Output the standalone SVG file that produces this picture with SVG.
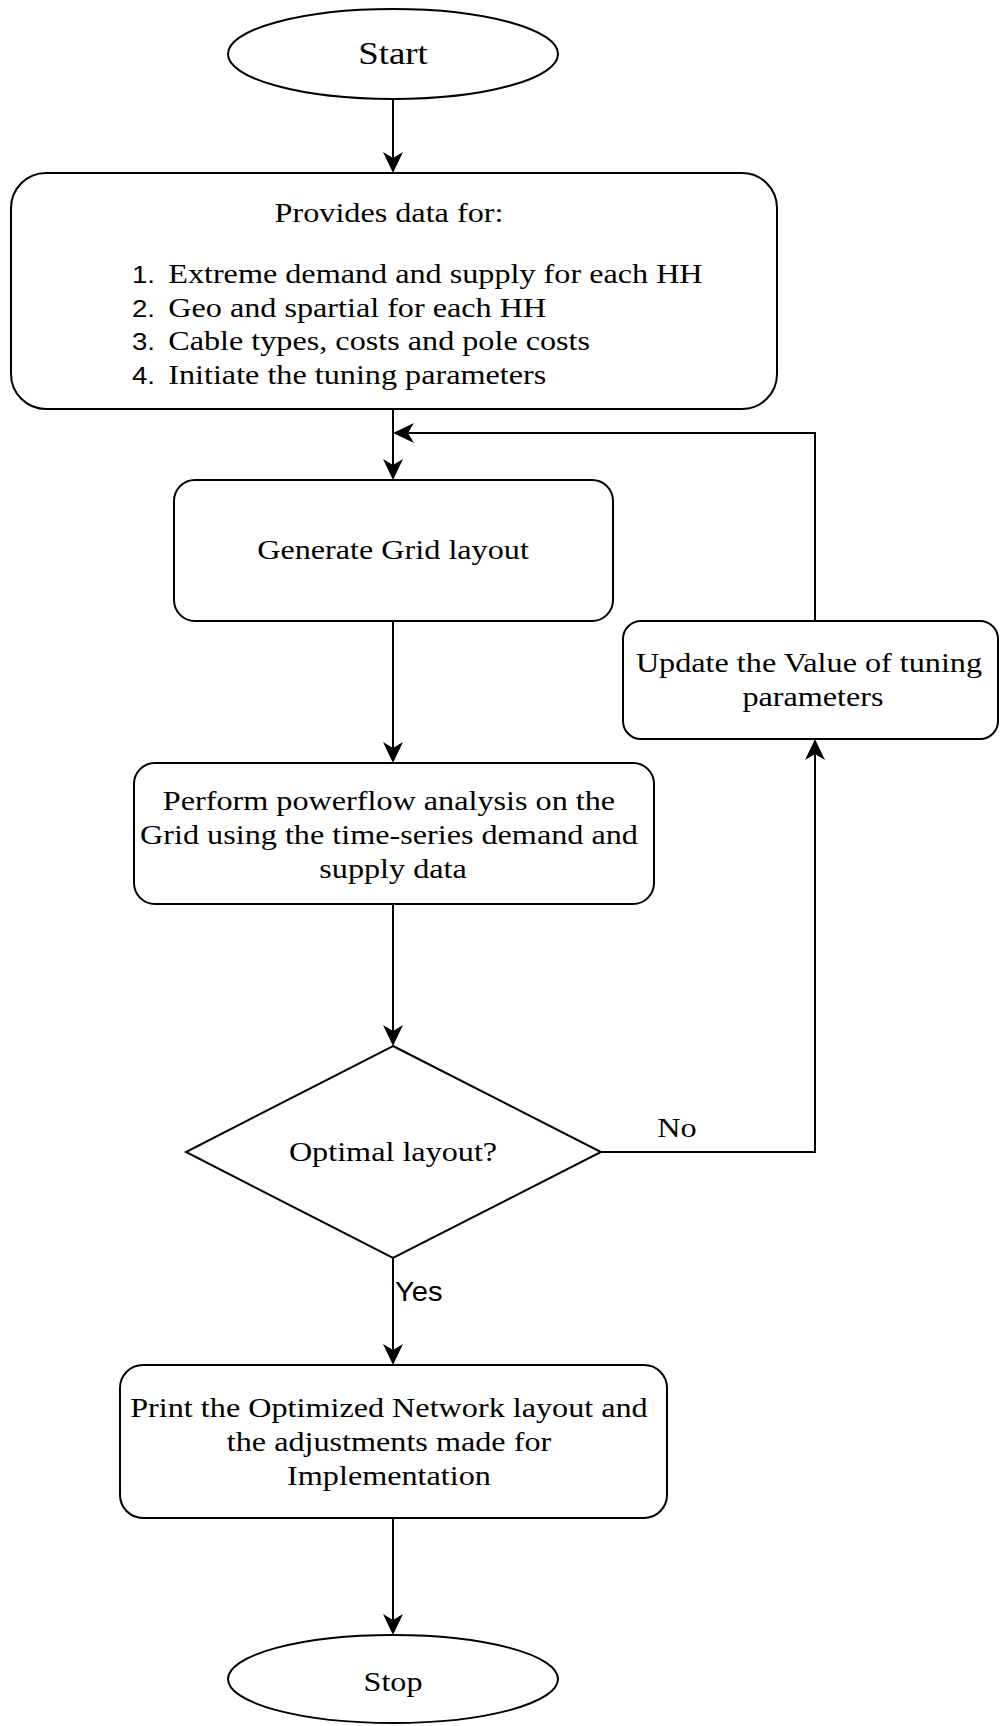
<svg xmlns="http://www.w3.org/2000/svg" width="1000" height="1726" viewBox="0 0 1000 1726">
  <style>
    .shape { fill: #ffffff; stroke: #000000; stroke-width: 2; }
    .conn { fill: none; stroke: #000000; stroke-width: 2; }
    .t { font-family: "Liberation Serif", "Times New Roman", serif; font-size: 28px; fill: #000000; text-anchor: middle; }
    .big { font-size: 32px; }
    .left { text-anchor: start; }
    .num { font-family: "Liberation Sans", Arial, sans-serif; font-size: 24px; }
    .s { font-family: "Liberation Sans", Arial, sans-serif; font-size: 28px; fill: #000000; }
  </style>
  <defs>
    <marker id="arrow" viewBox="0 0 24 24" markerWidth="24" markerHeight="24" refX="14" refY="12" orient="auto" markerUnits="userSpaceOnUse">
      <path d="M1,2 L22,12 L1,22 L7,12 Z" fill="#000000"/>
    </marker>
  </defs>
  <rect width="1000" height="1726" fill="#ffffff"/>

  <g id="connectors">
    <path class="conn" d="M393,100 V165" marker-end="url(#arrow)"/>
    <path class="conn" d="M393,409 V472" marker-end="url(#arrow)"/>
    <path class="conn" d="M815,621 V433 H401" marker-end="url(#arrow)"/>
    <path class="conn" d="M393,621 V755" marker-end="url(#arrow)"/>
    <path class="conn" d="M393,904 V1038" marker-end="url(#arrow)"/>
    <path class="conn" d="M393,1258 V1357" marker-end="url(#arrow)"/>
    <path class="conn" d="M601,1152 H815 V747" marker-end="url(#arrow)"/>
    <path class="conn" d="M393,1518 V1627" marker-end="url(#arrow)"/>
  </g>

  <g id="start">
    <ellipse class="shape" cx="393" cy="54" rx="165" ry="45"/>
    <text class="t big" transform="translate(393,64) scale(1.15,1)">Start</text>
  </g>

  <g id="provide-data">
    <rect class="shape" x="11" y="173" width="766" height="236" rx="35" ry="35"/>
    <text class="t" transform="translate(389,222) scale(1.15,1)">Provides data for:</text>
    <text class="t left" transform="translate(132,283) scale(1.15,1)">
      <tspan class="num" x="0" y="0">1.</tspan><tspan x="31.5" y="0">Extreme demand and supply for each HH</tspan>
      <tspan class="num" x="0" y="34">2.</tspan><tspan x="31.5" y="34">Geo and spartial for each HH</tspan>
      <tspan class="num" x="0" y="67.5">3.</tspan><tspan x="31.5" y="67.5">Cable types, costs and pole costs</tspan>
      <tspan class="num" x="0" y="101">4.</tspan><tspan x="31.5" y="101">Initiate the tuning parameters</tspan>
    </text>
  </g>

  <g id="generate">
    <rect class="shape" x="174" y="480" width="439" height="141" rx="21" ry="21"/>
    <text class="t" transform="translate(393,559) scale(1.15,1)">Generate Grid layout</text>
  </g>

  <g id="update">
    <rect class="shape" x="623" y="621" width="375" height="118" rx="18" ry="18"/>
    <text class="t" transform="translate(813,672) scale(1.15,1)">
      <tspan x="0" y="0">Update the Value of tuning</tspan>
      <tspan x="0" y="34">parameters</tspan>
    </text>
  </g>

  <g id="powerflow">
    <rect class="shape" x="134" y="763" width="520" height="141" rx="21" ry="21"/>
    <text class="t" transform="translate(393,810) scale(1.15,1)">
      <tspan x="0" y="0">Perform powerflow analysis on the</tspan>
      <tspan x="0" y="34">Grid using the time-series demand and</tspan>
      <tspan x="0" y="68">supply data</tspan>
    </text>
  </g>

  <g id="decision">
    <polygon class="shape" points="393,1046 601,1152 393,1258 186,1152"/>
    <text class="t" transform="translate(393,1161) scale(1.15,1)">Optimal layout?</text>
  </g>

  <g id="labels">
    <text class="t" transform="translate(677,1137) scale(1.15,1)">No</text>
    <text class="s" transform="translate(395,1301) scale(1.04,1)">Yes</text>
  </g>

  <g id="print">
    <rect class="shape" x="120" y="1365" width="547" height="153" rx="23" ry="23"/>
    <text class="t" transform="translate(393,1417) scale(1.15,1)">
      <tspan x="0" y="0">Print the Optimized Network layout and</tspan>
      <tspan x="0" y="34">the adjustments made for</tspan>
      <tspan x="-3.5" y="68">Implementation</tspan>
    </text>
  </g>

  <g id="stop">
    <ellipse class="shape" cx="393" cy="1679" rx="165" ry="44"/>
    <text class="t" transform="translate(393,1691) scale(1.15,1)">Stop</text>
  </g>
</svg>
